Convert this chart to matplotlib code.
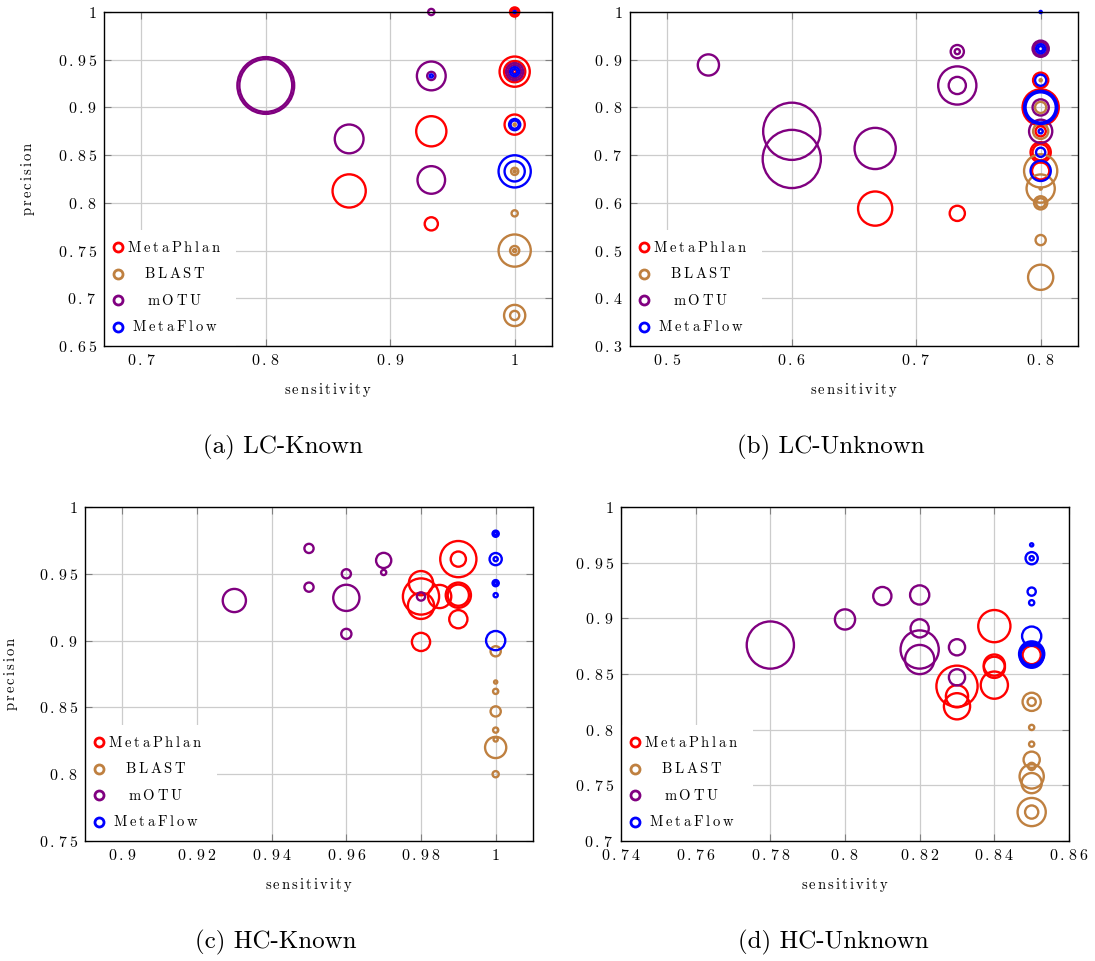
import matplotlib
matplotlib.use('Agg')
import matplotlib.pyplot as plt
from matplotlib.patches import Rectangle
from matplotlib.ticker import FuncFormatter, FixedLocator
import numpy as np

plt.rcParams['font.family'] = ['cmr10', 'DejaVu Serif']
plt.rcParams['mathtext.fontset'] = 'cm'
plt.rcParams['axes.unicode_minus'] = False

methods = ['MetaPhlan', 'BLAST', 'mOTU', 'MetaFlow']
colors = ['#ff0000', '#bf8040', '#800080', '#0000ff']

# ---------------- (a) LC-Known ----------------
lck_metaphlan_sens = [1.0, 1.0, 1.0, 1.0, 1.0, 1.0, 0.933, 0.867, 0.933]
lck_metaphlan_prec = [1.0, 1.0, 0.9375, 0.9375, 0.9375, 0.882, 0.875, 0.8125, 0.778]
lck_metaphlan_size = [5.5, 4.0, 16, 11.5, 1.5, 11, 16, 17.5, 7.5]
lck_blast_sens = [1.0, 1.0, 1.0, 1.0, 1.0, 1.0, 1.0, 1.0, 1.0]
lck_blast_prec = [0.882, 0.833, 0.833, 0.789, 0.75, 0.75, 0.75, 0.682, 0.682]
lck_blast_size = [2.0, 4.5, 2.0, 4.0, 17, 5.5, 2.5, 11.5, 5.5]
lck_motu_sens = [0.8, 0.8, 0.867, 0.933, 0.933, 0.933, 0.933, 1.0, 1.0]
lck_motu_prec = [0.923, 0.923, 0.867, 0.933, 0.933, 0.824, 1.0, 0.9375, 0.9375]
lck_motu_size = [27.3, 29.3, 15.3, 15.3, 5, 14.7, 4, 9.5, 7.5]
lck_metaflow_sens = [1.0, 1.0, 1.0, 1.0, 1.0, 1.0, 1.0, 0.933]
lck_metaflow_prec = [1.0, 0.9375, 0.9375, 0.882, 0.882, 0.833, 0.833, 0.933]
lck_metaflow_size = [2.0, 5.5, 3.5, 6.5, 5.0, 17, 11, 2.5]

# ---------------- (b) LC-Unknown ----------------
lcu_metaphlan_sens = [0.667, 0.733, 0.8, 0.8, 0.8, 0.8, 0.8, 0.8]
lcu_metaphlan_prec = [0.588, 0.578, 0.857, 0.80, 0.706, 0.706, 0.667, 0.75]
lcu_metaphlan_size = [18, 8.5, 8.5, 19, 11, 9, 9.5, 6]
lcu_blast_sens = [0.8, 0.8, 0.8, 0.8, 0.8, 0.8, 0.8, 0.8, 0.8, 0.8]
lcu_blast_prec = [0.857, 0.80, 0.75, 0.667, 0.63, 0.63, 0.60, 0.60, 0.522, 0.444]
lcu_blast_size = [2, 6.5, 8.5, 17.5, 15, 2, 7.5, 5.5, 6, 13.5]
lcu_motu_sens = [0.533, 0.6, 0.6, 0.667, 0.733, 0.733, 0.733, 0.733, 0.8, 0.8, 0.8, 0.8]
lcu_motu_prec = [0.889, 0.75, 0.692, 0.714, 0.846, 0.846, 0.917, 0.917, 0.923, 0.923, 0.80, 0.75]
lcu_motu_size = [11.5, 29.5, 30, 21.5, 20, 9.5, 7.5, 3.5, 9, 7.5, 9, 12.5]
lcu_metaflow_sens = [0.8, 0.8, 0.8, 0.8, 0.8, 0.8, 0.8, 0.8, 0.8]
lcu_metaflow_prec = [1.0, 0.923, 0.923, 0.857, 0.80, 0.80, 0.75, 0.706, 0.667]
lcu_metaflow_size = [2, 5.5, 3.5, 6.5, 17.5, 16, 3, 5.5, 11]

# ---------------- (c) HC-Known ----------------
hck_metaphlan_sens = [0.98, 0.98, 0.98, 0.98, 0.985, 0.99, 0.99, 0.99, 0.99, 0.99]
hck_metaphlan_prec = [0.943, 0.933, 0.926, 0.899, 0.933, 0.961, 0.961, 0.934, 0.934, 0.916]
hck_metaphlan_size = [13, 19, 14, 10, 12.5, 19, 8.5, 13.5, 11.5, 10]
hck_blast_sens = [1.0, 1.0, 1.0, 1.0, 1.0, 1.0, 1.0, 1.0]
hck_blast_prec = [0.892, 0.869, 0.862, 0.847, 0.833, 0.826, 0.82, 0.80]
hck_blast_size = [6, 2.5, 3.5, 6, 3.5, 3, 11.5, 4]
hck_motu_sens = [0.93, 0.95, 0.95, 0.96, 0.96, 0.96, 0.97, 0.97, 0.98]
hck_motu_prec = [0.93, 0.969, 0.94, 0.95, 0.932, 0.905, 0.96, 0.951, 0.933]
hck_motu_size = [12.5, 5.5, 5.5, 5.5, 14, 6, 8.5, 3.5, 5]
hck_metaflow_sens = [1.0, 1.0, 1.0, 1.0, 1.0, 1.0, 1.0, 1.0]
hck_metaflow_prec = [0.98, 0.98, 0.961, 0.961, 0.943, 0.943, 0.934, 0.90]
hck_metaflow_size = [4, 2.5, 7, 3, 4, 2.5, 3, 10.5]

# ---------------- (d) HC-Unknown ----------------
hcu_metaphlan_sens = [0.83, 0.83, 0.83, 0.84, 0.84, 0.84, 0.84, 0.85]
hcu_metaphlan_prec = [0.839, 0.83, 0.821, 0.893, 0.858, 0.856, 0.84, 0.867]
hcu_metaphlan_size = [21.5, 12, 14, 17, 11.5, 11.5, 14.5, 10]
hcu_blast_sens = [0.85, 0.85, 0.85, 0.85, 0.85, 0.85, 0.85, 0.85, 0.85, 0.85]
hcu_blast_prec = [0.825, 0.825, 0.802, 0.787, 0.773, 0.767, 0.758, 0.752, 0.726, 0.726]
hcu_blast_size = [10, 5, 3.5, 3.5, 9, 4.5, 13, 11, 15, 7.5]
hcu_motu_sens = [0.78, 0.80, 0.81, 0.82, 0.82, 0.82, 0.82, 0.83, 0.83]
hcu_motu_prec = [0.876, 0.899, 0.92, 0.921, 0.891, 0.872, 0.863, 0.874, 0.847]
hcu_motu_size = [24.5, 11, 10, 10.5, 10, 20, 15.5, 9, 9]
hcu_metaflow_sens = [0.85, 0.85, 0.85, 0.85, 0.85, 0.85, 0.85, 0.85, 0.85]
hcu_metaflow_prec = [0.966, 0.954, 0.954, 0.924, 0.914, 0.884, 0.868, 0.868, 0.866]
hcu_metaflow_size = [2.5, 7, 3, 5, 3.5, 10.5, 13.5, 12, 12.5]

captions = ['(a) LC-Known', '(b) LC-Unknown', '(c) HC-Known', '(d) HC-Unknown']
xlims = [(0.67, 1.03), (0.47, 0.83), (0.89, 1.01), (0.74, 0.86)]
ylims = [(0.65, 1.0), (0.3, 1.0), (0.75, 1.0), (0.7, 1.0)]
xticks = [[0.7, 0.8, 0.9, 1.0], [0.5, 0.6, 0.7, 0.8],
          [0.9, 0.92, 0.94, 0.96, 0.98, 1.0], [0.74, 0.76, 0.78, 0.8, 0.82, 0.84, 0.86]]
yticks = [[0.65, 0.7, 0.75, 0.8, 0.85, 0.9, 0.95, 1.0],
          [0.3, 0.4, 0.5, 0.6, 0.7, 0.8, 0.9, 1.0],
          [0.75, 0.8, 0.85, 0.9, 0.95, 1.0],
          [0.7, 0.75, 0.8, 0.85, 0.9, 0.95, 1.0]]

panels = [
    [(lck_metaphlan_sens, lck_metaphlan_prec, lck_metaphlan_size),
     (lck_blast_sens, lck_blast_prec, lck_blast_size),
     (lck_motu_sens, lck_motu_prec, lck_motu_size),
     (lck_metaflow_sens, lck_metaflow_prec, lck_metaflow_size)],
    [(lcu_metaphlan_sens, lcu_metaphlan_prec, lcu_metaphlan_size),
     (lcu_blast_sens, lcu_blast_prec, lcu_blast_size),
     (lcu_motu_sens, lcu_motu_prec, lcu_motu_size),
     (lcu_metaflow_sens, lcu_metaflow_prec, lcu_metaflow_size)],
    [(hck_metaphlan_sens, hck_metaphlan_prec, hck_metaphlan_size),
     (hck_blast_sens, hck_blast_prec, hck_blast_size),
     (hck_motu_sens, hck_motu_prec, hck_motu_size),
     (hck_metaflow_sens, hck_metaflow_prec, hck_metaflow_size)],
    [(hcu_metaphlan_sens, hcu_metaphlan_prec, hcu_metaphlan_size),
     (hcu_blast_sens, hcu_blast_prec, hcu_blast_size),
     (hcu_motu_sens, hcu_motu_prec, hcu_motu_size),
     (hcu_metaflow_sens, hcu_metaflow_prec, hcu_metaflow_size)],
]

DPI = 100
W, H = 1095, 961
fig = plt.figure(figsize=(W / DPI, H / DPI), dpi=DPI)

# axes boxes in pixels: left, top
boxes = [(104, 12), (630, 12), (85, 507), (621, 507)]
AW, AH = 448, 334
caption_pos = [(283, 447), (831, 447), (276, 942), (833, 942)]


def spaced(s, sp=r'\:'):
    parts = []
    for ch in s:
        if ch.isalpha():
            parts.append(r'\mathrm{' + ch + '}')
        else:
            parts.append(ch)
    return '$' + sp.join(parts) + '$'


tick_fmt = FuncFormatter(lambda v, p: spaced(f'{v:g}', r'\,'))


def radius_to_s(sizes):
    d_px = np.maximum(2 * np.asarray(sizes, dtype=float) - 1.8, 1.0)
    return (d_px * 72.0 / DPI) ** 2


for i, (bx, by) in enumerate(boxes):
    ax = fig.add_axes([bx / W, 1 - (by + AH) / H, AW / W, AH / H])
    ax.set_xlim(*xlims[i])
    ax.set_ylim(*ylims[i])
    ax.xaxis.set_major_locator(FixedLocator(xticks[i]))
    ax.yaxis.set_major_locator(FixedLocator(yticks[i]))
    ax.xaxis.set_major_formatter(tick_fmt)
    ax.yaxis.set_major_formatter(tick_fmt)
    ax.set_axisbelow(True)
    ax.grid(True, color='#cccccc', linewidth=0.9)
    ax.tick_params(direction='in', length=5, width=0.8, color='#808080',
                   top=True, right=True, labelsize=11.5, pad=5)
    for sp in ax.spines.values():
        sp.set_linewidth(1.0)
        sp.set_zorder(5)

    for (sens, prec, size), col in zip(panels[i], colors):
        ax.scatter(sens, prec, s=radius_to_s(size), facecolors='none',
                   edgecolors=col, linewidths=1.7, zorder=3, clip_on=False)

    # legend box (drawn manually to mimic centred entries)
    ax.add_patch(Rectangle((0, 0), 0.295, 0.347, transform=ax.transAxes,
                           facecolor='white', edgecolor='none', zorder=1.5))
    ly = [0.2955, 0.2156, 0.1377, 0.0578]
    for name, col, yy in zip(methods, colors, ly):
        ax.plot([0.0306], [yy], transform=ax.transAxes, marker='o', ms=6.5,
                mfc='none', mec=col, mew=2.0, ls='none', zorder=4)
        ax.text(0.158, yy, spaced(name), transform=ax.transAxes, ha='center',
                va='center', fontsize=10.5, zorder=4)

    ax.set_xlabel(spaced('sensitivity', r'\,'), fontsize=10.5)
    ax.xaxis.set_label_coords(0.5, -0.105)
    if i in (0, 2):
        ax.set_ylabel(spaced('precision', r'\,'), fontsize=10.5)
        ax.yaxis.set_label_coords(-0.15 if i == 0 else -0.145, 0.5)

    cx, cy = caption_pos[i]
    fig.text(cx / W, 1 - cy / H, captions[i], ha='center', va='center',
             fontsize=18)

fig.savefig('out.png', dpi=DPI)
